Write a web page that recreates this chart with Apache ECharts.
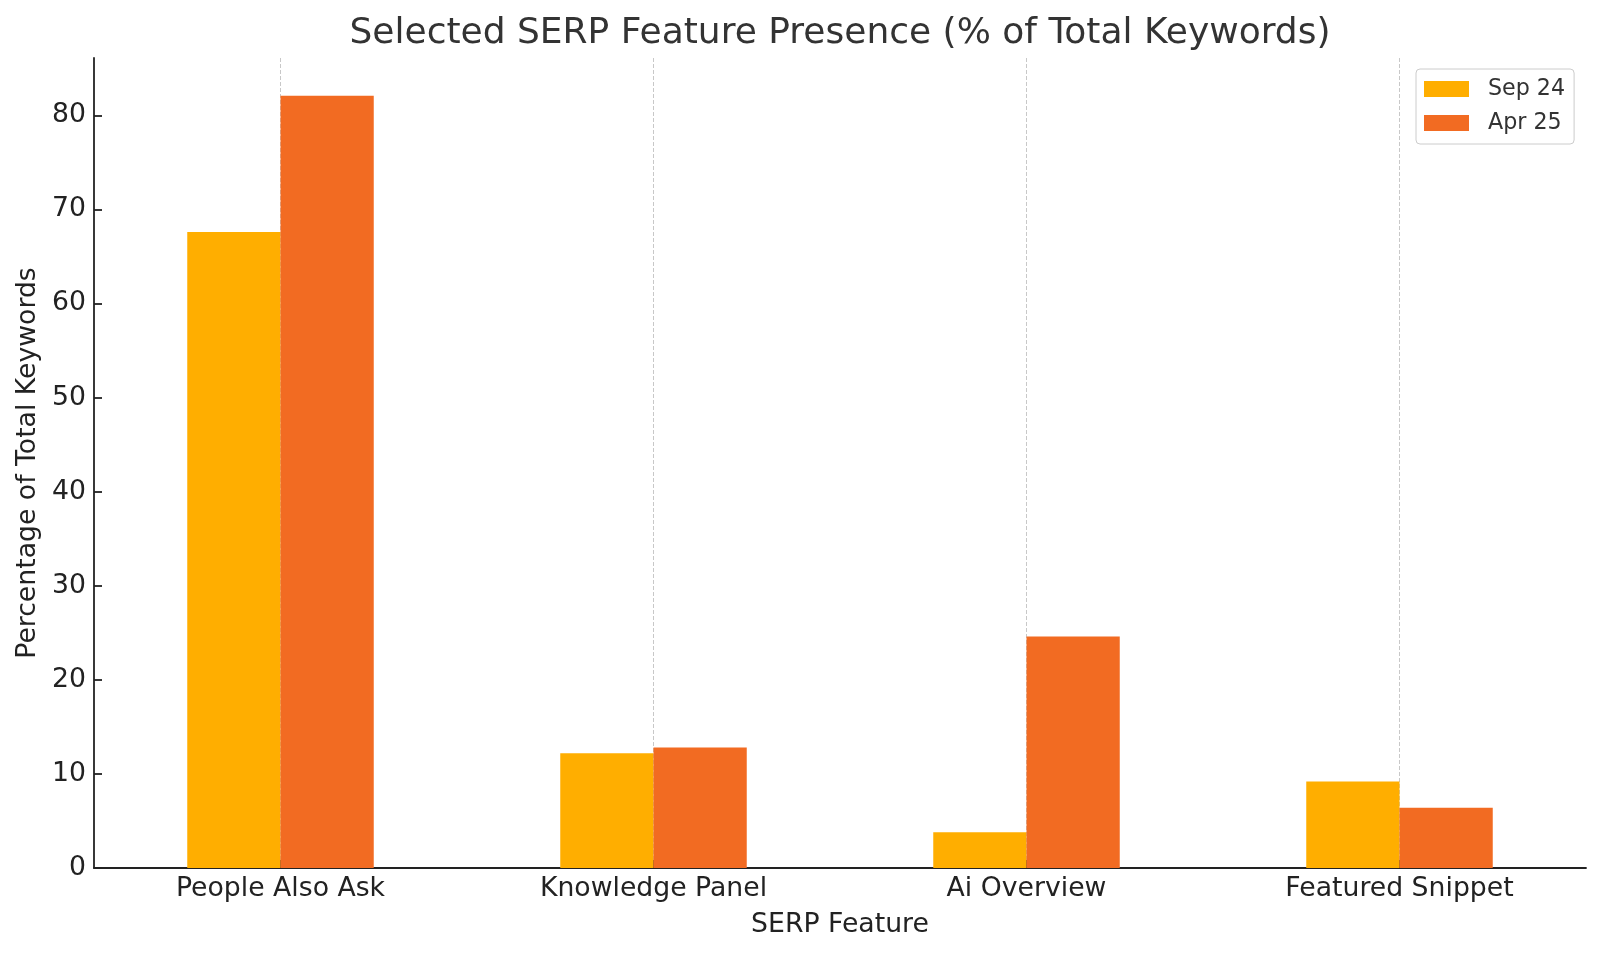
<!DOCTYPE html>
<html>
<head>
<meta charset="utf-8">
<script src="https://cdn.jsdelivr.net/npm/echarts@6/dist/echarts.min.js"></script>
<style>
  html, body { margin: 0; padding: 0; background: #fff; }
  #chart { width: 1600px; height: 954px; }
</style>
</head>
<body>
<div id="chart"></div>
<script>
const categories = ['People Also Ask', 'Knowledge Panel', 'Ai Overview', 'Featured Snippet'];
const sep24 = [67.6, 12.2, 3.8, 9.2];
const apr25 = [82.1, 12.8, 24.6, 6.4];
const seriesNames = ['Sep 24', 'Apr 25'];
const yTicks = [0, 10, 20, 30, 40, 50, 60, 70, 80];
const yMax = 86.1;

const FONT = 'DejaVu Sans';
const chart = echarts.init(document.getElementById('chart'), null, { renderer: 'canvas' });

chart.setOption({
  animation: false,
  backgroundColor: '#ffffff',
  textStyle: { fontFamily: FONT },
  title: {
    text: 'Selected SERP Feature Presence (% of Total Keywords)',
    left: 840,
    top: 16,
    textAlign: 'center',
    padding: 0,
    textStyle: { fontFamily: FONT, fontSize: 36, fontWeight: 'normal', color: '#333333' }
  },
  legend: {
    orient: 'vertical',
    left: 1416,
    top: 69,
    padding: [9, 9, 10, 8],
    itemWidth: 45,
    itemHeight: 16,
    itemGap: 12,
    icon: 'rect',
    borderColor: '#cccccc',
    borderWidth: 1,
    borderRadius: 4,
    backgroundColor: 'rgba(255,255,255,0.8)',
    textStyle: { fontFamily: FONT, fontSize: 22.2, color: '#333333', padding: [0, 0, 0, 14] },
    data: seriesNames
  },
  grid: { left: 94, right: 14, top: 58, bottom: 86, containLabel: false },
  xAxis: {
    type: 'category',
    data: categories,
    boundaryGap: true,
    name: 'SERP Feature',
    nameLocation: 'middle',
    nameGap: 44,
    nameTextStyle: { fontFamily: FONT, fontSize: 26.7, color: '#222222' },
    axisLine: { show: true, lineStyle: { color: '#222222', width: 1.8 } },
    axisTick: { show: true, inside: true, alignWithLabel: true, length: 8, lineStyle: { color: '#222222', width: 1.8 } },
    axisLabel: { fontFamily: FONT, fontSize: 26.7, color: '#222222', margin: 8 },
    splitLine: { show: true, alignWithLabel: true, lineStyle: { color: '#c8c8c8', type: 'dashed', width: 1 } }
  },
  yAxis: {
    type: 'value',
    min: 0,
    max: yMax,
    interval: 10,
    name: 'Percentage of Total Keywords',
    nameLocation: 'middle',
    nameGap: 51,
    nameTextStyle: { fontFamily: FONT, fontSize: 26.7, color: '#222222' },
    axisLine: { show: true, lineStyle: { color: '#222222', width: 1.8 } },
    axisTick: { show: true, inside: true, length: 8, customValues: yTicks, lineStyle: { color: '#222222', width: 1.8 } },
    axisLabel: { fontFamily: FONT, fontSize: 26.7, color: '#222222', margin: 8, customValues: yTicks },
    splitLine: { show: false }
  },
  series: [
    {
      name: seriesNames[0],
      type: 'bar',
      data: sep24,
      barWidth: '25%',
      barGap: '0%',
      itemStyle: { color: '#FFAE00' }
    },
    {
      name: seriesNames[1],
      type: 'bar',
      data: apr25,
      barWidth: '25%',
      barGap: '0%',
      itemStyle: { color: '#F26B22' }
    }
  ]
});
</script>
</body>
</html>
